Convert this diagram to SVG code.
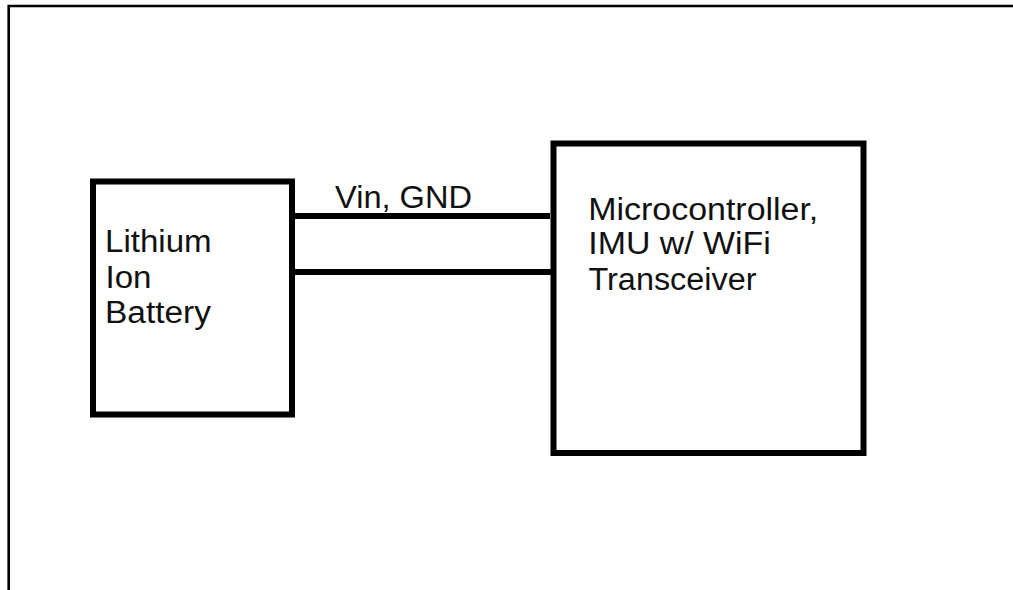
<svg xmlns="http://www.w3.org/2000/svg" width="1013" height="590" viewBox="0 0 1013 590">
<style>
.frame{fill:none;stroke:#000;stroke-width:2.6}
.box{fill:#fff;stroke:#000;stroke-width:6}
.wire{fill:none;stroke:#000;stroke-width:6}
text{font-family:"Liberation Sans",Arial,sans-serif;font-size:31px;fill:#111}
</style>
<rect width="1013" height="590" fill="#fff"/>
<path class="frame" d="M8.7,590 V6 H1013"/>
<g id="connectors">
<line class="wire" x1="292" y1="216" x2="550" y2="216"/>
<line class="wire" x1="292" y1="272" x2="553" y2="272"/>
<text x="335" y="207.5" textLength="137" lengthAdjust="spacingAndGlyphs">Vin, GND</text>
</g>
<g id="battery">
<rect class="box" x="93" y="181.5" width="199" height="233"/>
<text x="105" y="252" textLength="106.7" lengthAdjust="spacingAndGlyphs">Lithium</text>
<text x="105.5" y="287.5" textLength="46" lengthAdjust="spacingAndGlyphs">Ion</text>
<text x="105" y="322.5" textLength="106" lengthAdjust="spacingAndGlyphs">Battery</text>
</g>
<g id="microcontroller">
<rect class="box" x="553.5" y="143.5" width="310" height="309.5"/>
<text x="588.3" y="219.5" textLength="230" lengthAdjust="spacingAndGlyphs">Microcontroller,</text>
<text x="588.3" y="254" textLength="182.5" lengthAdjust="spacingAndGlyphs">IMU w/ WiFi</text>
<text x="588.5" y="290" textLength="168" lengthAdjust="spacingAndGlyphs">Transceiver</text>
</g>
</svg>
